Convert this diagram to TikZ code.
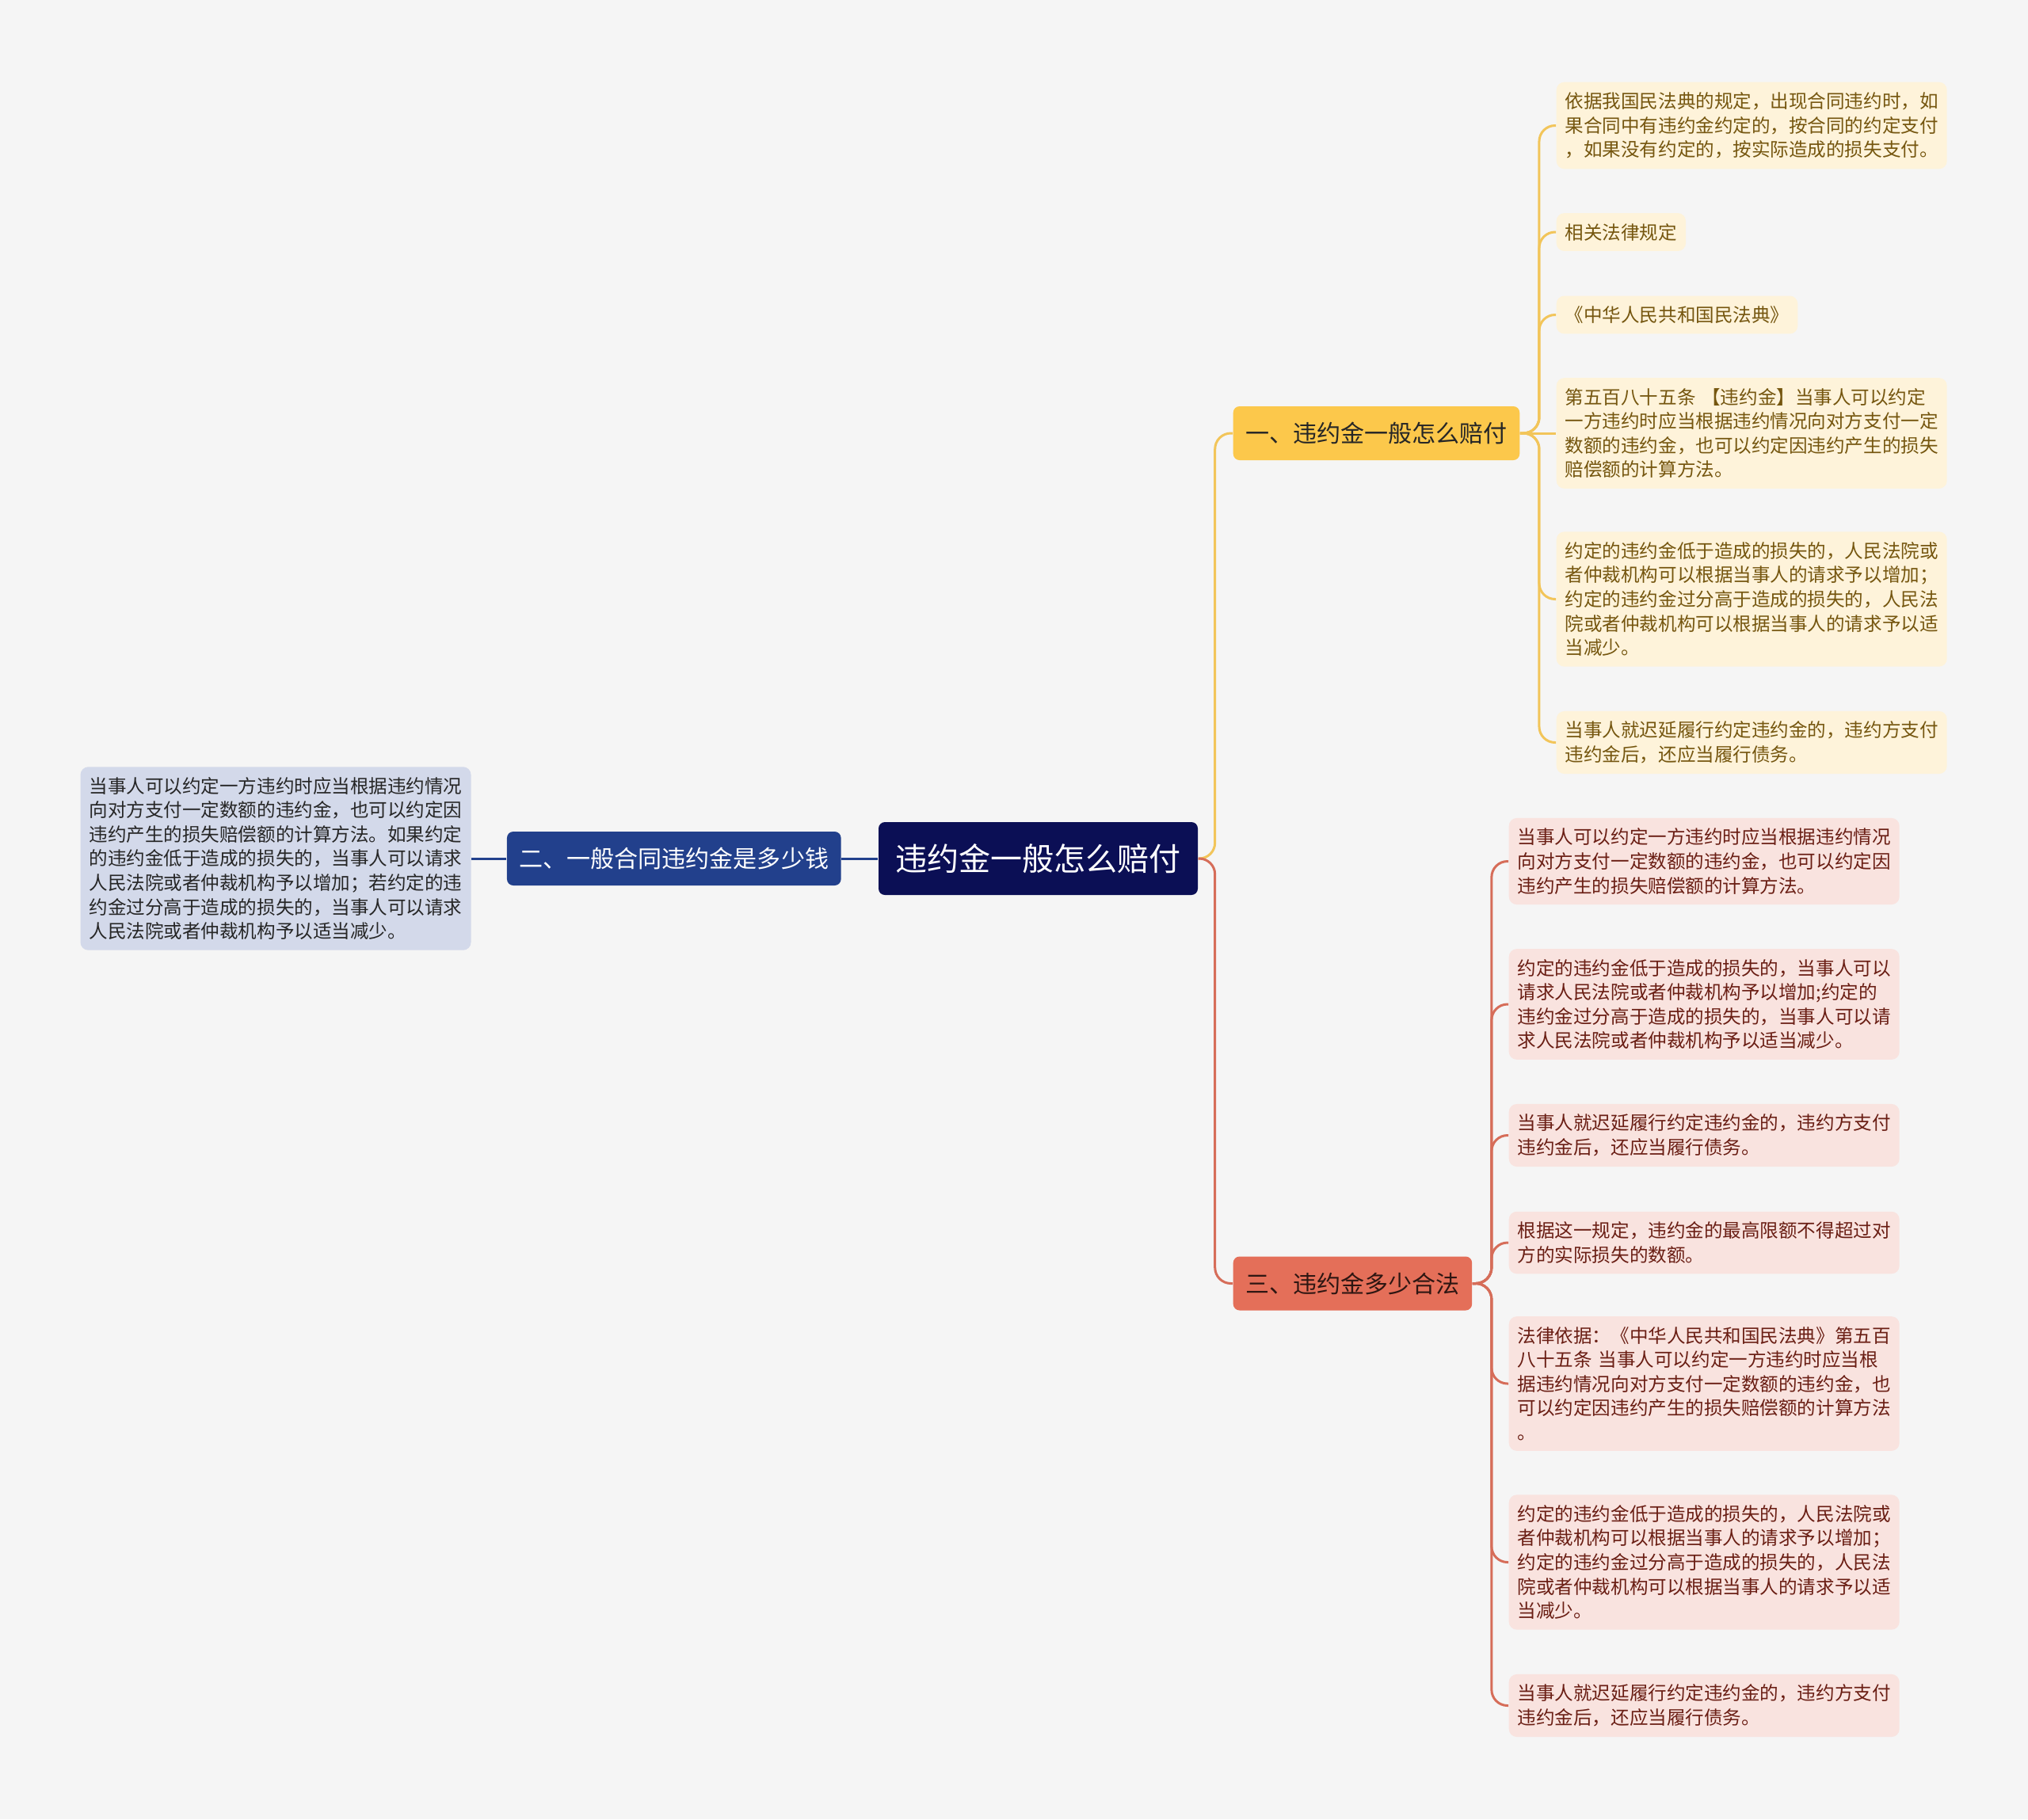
\documentclass[tikz,border=0pt]{standalone}
\usepackage{fontspec}
\setmainfont{Noto Sans CJK SC}
\usepackage{tikz}
\usetikzlibrary{positioning}
\definecolor{pagebg}{HTML}{F5F5F5}
\definecolor{rootblue}{HTML}{0B0F55}
\definecolor{midblue}{HTML}{22408C}
\definecolor{paleblue}{HTML}{D3D9EA}
\definecolor{gold}{HTML}{FCC84B}
\definecolor{goldline}{HTML}{F2C55A}
\definecolor{goldpale}{HTML}{FEF3DA}
\definecolor{goldtext}{HTML}{75560F}
\definecolor{coral}{HTML}{E46F59}
\definecolor{coralline}{HTML}{D66D59}
\definecolor{coralpale}{HTML}{F9E3DF}
\definecolor{coraltext}{HTML}{6A1E14}

\begin{document}
\begin{tikzpicture}[
  rootnode/.style={rectangle, rounded corners=0.08cm, fill=rootblue, text=white,
                   minimum width=4.03cm, minimum height=0.92cm, font=\fontsize{11.4}{14}\selectfont},
  branch/.style={rectangle, rounded corners=0.08cm, inner xsep=0.155cm,
                 minimum height=0.68cm, font=\fontsize{8.55}{11}\selectfont},
  leaf/.style={rectangle, rounded corners=0.1cm, inner xsep=0.11cm, inner ysep=0.13cm,
               align=left, font=\fontsize{6.7}{8.7}\selectfont},
  wide/.style={text width=4.71cm},
  yleaf/.style={leaf, fill=goldpale, text=goldtext},
  rleaf/.style={leaf, wide, fill=coralpale, text=coraltext},
  bleaf/.style={leaf, wide, fill=paleblue, text=black!85},
  link/.style={line width=0.03cm, rounded corners=0.2cm},
  ylink/.style={link, draw=goldline},
  rlink/.style={link, draw=coralline},
  blink/.style={link, draw=midblue}
]
  % Canvas
  \fill[pagebg] (0,0) rectangle (25.6,-22.97);
  \useasboundingbox (0,0) rectangle (25.6,-22.97);

  % Centre and the three branches
  \node[rootnode] (root) at (13.105,-10.84) {违约金一般怎么赔付};
  \node[branch, fill=midblue, text=white, left=0.46cm of root] (two) {二、一般合同违约金是多少钱};
  \node[branch, fill=gold, text=black!85, anchor=west] (one) at (15.56,-5.47) {一、违约金一般怎么赔付};
  \node[branch, fill=coral, text=black!80!coral, anchor=west] (three) at (15.56,-16.205) {三、违约金多少合法};

  % Left leaf
  \node[bleaf, left=0.44cm of two] (twoa) {当事人可以约定一方违约时应当根据违约情况\\向对方支付一定数额的违约金，也可以约定因\\违约产生的损失赔偿额的计算方法。如果约定\\的违约金低于造成的损失的，当事人可以请求\\人民法院或者仲裁机构予以增加；若约定的违\\约金过分高于造成的损失的，当事人可以请求\\人民法院或者仲裁机构予以适当减少。};

  % Leaves of branch one
  \node[yleaf, wide, anchor=west] (onea) at (19.64,-1.585) {依据我国民法典的规定，出现合同违约时，如\\果合同中有违约金约定的，按合同的约定支付\\，如果没有约定的，按实际造成的损失支付。};
  \node[yleaf, anchor=west] (oneb) at (19.64,-2.93) {相关法律规定};
  \node[yleaf, anchor=west] (onec) at (19.64,-3.975) {《中华人民共和国民法典》};
  \node[yleaf, wide, anchor=west] (oned) at (19.64,-5.47) {第五百八十五条 【违约金】当事人可以约定\\一方违约时应当根据违约情况向对方支付一定\\数额的违约金，也可以约定因违约产生的损失\\赔偿额的计算方法。};
  \node[yleaf, wide, anchor=west] (onee) at (19.64,-7.565) {约定的违约金低于造成的损失的，人民法院或\\者仲裁机构可以根据当事人的请求予以增加；\\约定的违约金过分高于造成的损失的，人民法\\院或者仲裁机构可以根据当事人的请求予以适\\当减少。};
  \node[yleaf, wide, anchor=west] (onef) at (19.64,-9.375) {当事人就迟延履行约定违约金的，违约方支付\\违约金后，还应当履行债务。};

  % Leaves of branch three
  \node[rleaf, anchor=west] (threea) at (19.04,-10.875) {当事人可以约定一方违约时应当根据违约情况\\向对方支付一定数额的违约金，也可以约定因\\违约产生的损失赔偿额的计算方法。};
  \node[rleaf, anchor=west] (threeb) at (19.04,-12.68) {约定的违约金低于造成的损失的，当事人可以\\请求人民法院或者仲裁机构予以增加;约定的\\违约金过分高于造成的损失的，当事人可以请\\求人民法院或者仲裁机构予以适当减少。};
  \node[rleaf, anchor=west] (threec) at (19.04,-14.335) {当事人就迟延履行约定违约金的，违约方支付\\违约金后，还应当履行债务。};
  \node[rleaf, anchor=west] (threed) at (19.04,-15.69) {根据这一规定，违约金的最高限额不得超过对\\方的实际损失的数额。};
  \node[rleaf, anchor=west] (threee) at (19.04,-17.47) {法律依据：《中华人民共和国民法典》第五百\\八十五条 当事人可以约定一方违约时应当根\\据违约情况向对方支付一定数额的违约金，也\\可以约定因违约产生的损失赔偿额的计算方法\\。};
  \node[rleaf, anchor=west] (threef) at (19.04,-19.725) {约定的违约金低于造成的损失的，人民法院或\\者仲裁机构可以根据当事人的请求予以增加；\\约定的违约金过分高于造成的损失的，人民法\\院或者仲裁机构可以根据当事人的请求予以适\\当减少。};
  \node[rleaf, anchor=west] (threeg) at (19.04,-21.535) {当事人就迟延履行约定违约金的，违约方支付\\违约金后，还应当履行债务。};

  % Links from the centre
  \draw[blink] (root.west) -- (two.east);
  \draw[blink] (two.west) -- (twoa.east);
  \draw[ylink] (root.east) -- ++(0.21,0) |- (one.west);
  \draw[rlink] (root.east) -- ++(0.21,0) |- (three.west);

  % Links of branch one
  \draw[ylink] (one.east) -- ++(0.24,0) |- (onea.west);
  \draw[ylink] (one.east) -- ++(0.24,0) |- (oneb.west);
  \draw[ylink] (one.east) -- ++(0.24,0) |- (onec.west);
  \draw[ylink] (one.east) -- (oned.west);
  \draw[ylink] (one.east) -- ++(0.24,0) |- (onee.west);
  \draw[ylink] (one.east) -- ++(0.24,0) |- (onef.west);

  % Links of branch three
  \draw[rlink] (three.east) -- ++(0.24,0) |- (threea.west);
  \draw[rlink] (three.east) -- ++(0.24,0) |- (threeb.west);
  \draw[rlink] (three.east) -- ++(0.24,0) |- (threec.west);
  \draw[rlink] (three.east) -- ++(0.24,0) |- (threed.west);
  \draw[rlink] (three.east) -- ++(0.24,0) |- (threee.west);
  \draw[rlink] (three.east) -- ++(0.24,0) |- (threef.west);
  \draw[rlink] (three.east) -- ++(0.24,0) |- (threeg.west);
\end{tikzpicture}
\end{document}
